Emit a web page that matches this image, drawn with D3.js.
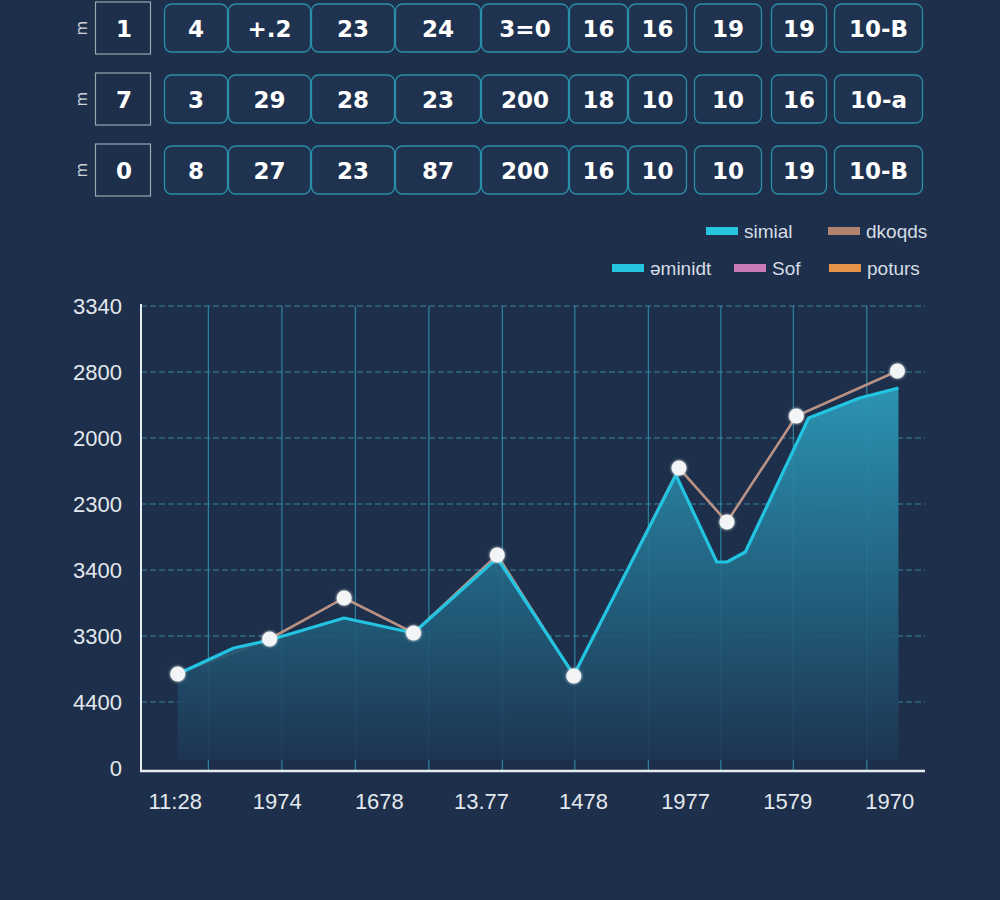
<!DOCTYPE html>
<html>
<head>
<meta charset="utf-8">
<script src="https://cdn.jsdelivr.net/npm/d3@7"></script>
<style>
  html, body { margin: 0; padding: 0; background: #1d2f4a; }
  svg { display: block; }
</style>
</head>
<body>
<svg id="chart" width="1000" height="900"></svg>
<script>
// ---------- DATA ----------
const rowHeads = ["1", "7", "0"];
const tableRow1 = ["4", "+.2", "23", "24", "3=0", "16", "16", "19", "19", "10-B"];
const tableRow2 = ["3", "29", "28", "23", "200", "18", "10", "10", "16", "10-a"];
const tableRow3 = ["8", "27", "23", "87", "200", "16", "10", "10", "19", "10-B"];

const legendNames = ["simial", "dkoqds", "əminidt", "Sof", "poturs"];
const legendColors = ["#27c4e0", "#b2836f", "#27c4e0", "#c879b6", "#e59347"];

const xTickValues = [0, 1, 2, 3, 4, 5, 6, 7];
const xTickLabels = ["11:28", "1974", "1678", "13.77", "1478", "1977", "1579", "1970"];
const yTickValues = [0, 1000, 2000, 3000, 4000, 5000, 6000, 7000];
const yTickLabels = ["0", "4400", "3300", "3400", "2300", "2000", "2800", "3340"];

// cyan area series ("simial")
const cyanX = [0.03, 0.58, 0.93, 1.66, 2.34, 3.16, 3.91, 4.91, 5.31, 5.41, 5.59, 6.21, 6.71, 7.09];
const cyanY = [1424, 1818, 1939, 2273, 2045, 3180, 1409, 4439, 3121, 3121, 3273, 5303, 5606, 5758];

// marker series ("dkoqds")
const dotX = [0.03, 0.93, 1.66, 2.34, 3.16, 3.91, 4.94, 5.41, 6.09, 7.08];
const dotY = [1424, 1955, 2576, 2045, 3227, 1394, 4545, 3727, 5333, 6015];

// vertical grid positions (in x units)
const xGridValues = [0.33, 1.05, 1.77, 2.49, 3.21, 3.92, 4.64, 5.35, 6.06, 6.78];

// ---------- LAYOUT ----------
const svg = d3.select("#chart");
svg.append("rect").attr("width", 1000).attr("height", 900).attr("fill", "#1d2f4a");

const plot = { left: 141, right: 925, top: 306, bottom: 768 };
const x = d3.scaleLinear().domain([-0.33, 7.35]).range([plot.left, plot.right]);
const y = d3.scaleLinear().domain([0, 7000]).range([plot.bottom, plot.top]);

// ---------- TABLE ----------
const rowsData = [tableRow1, tableRow2, tableRow3];
const rowTop = [4, 75, 146];
const rowH = 48;
const colEdges = [[164, 228], [228, 311], [311, 395], [395, 481], [481, 569],
                  [569, 628], [628, 687], [694, 762], [771, 827], [834, 923]];
const table = svg.append("g");
rowsData.forEach((row, ri) => {
  const g = table.append("g");
  const top = rowTop[ri];
  g.append("text")
    .attr("x", 83).attr("y", top + rowH / 2)
    .attr("transform", `rotate(90, 83, ${top + rowH / 2})`)
    .attr("text-anchor", "middle").attr("dominant-baseline", "central")
    .attr("fill", "#c9d1da").attr("font-family", "DejaVu Sans").attr("font-size", 15)
    .text("ɯ");
  g.append("rect")
    .attr("x", 95.5).attr("y", top - 2).attr("width", 55).attr("height", rowH + 4)
    .attr("fill", "none").attr("stroke", "#9aa6b2").attr("stroke-width", 1.2);
  g.append("text")
    .attr("x", 124).attr("y", top + rowH / 2 + 1)
    .attr("text-anchor", "middle").attr("dominant-baseline", "central")
    .attr("fill", "#ffffff").attr("font-family", "DejaVu Sans").attr("font-weight", "bold")
    .attr("font-size", 23).text(rowHeads[ri]);
  row.forEach((v, ci) => {
    const [a, b] = colEdges[ci];
    g.append("rect")
      .attr("x", a + 0.5).attr("y", top).attr("width", b - a - 1).attr("height", rowH)
      .attr("rx", 7).attr("fill", "#1f3350")
      .attr("stroke", "#2b8ea8").attr("stroke-width", 1.3);
    g.append("text")
      .attr("x", (a + b) / 2).attr("y", top + rowH / 2 + 1)
      .attr("text-anchor", "middle").attr("dominant-baseline", "central")
      .attr("fill", "#ffffff").attr("font-family", "DejaVu Sans").attr("font-weight", "bold")
      .attr("font-size", 23).text(v);
  });
});

// ---------- LEGEND ----------
const legendPos = [[706, 231], [828, 231], [612, 268], [734, 268], [829, 268]];
const legend = svg.append("g");
legendNames.forEach((name, i) => {
  const [lx, ly] = legendPos[i];
  legend.append("rect").attr("x", lx).attr("y", ly - 4).attr("width", 32).attr("height", 8)
    .attr("fill", legendColors[i]);
  legend.append("text").attr("x", lx + 38).attr("y", ly)
    .attr("dominant-baseline", "central")
    .attr("fill", "#d6dde6").attr("font-family", "Liberation Sans").attr("font-size", 19)
    .text(name);
});

// ---------- GRID ----------
const grid = svg.append("g");
grid.selectAll("line.h").data(yTickValues.filter(v => v > 0)).enter().append("line")
  .attr("x1", plot.left).attr("x2", plot.right)
  .attr("y1", d => y(d)).attr("y2", d => y(d))
  .attr("stroke", "#3a98b3").attr("stroke-width", 1.1).attr("stroke-dasharray", "6,3")
  .attr("opacity", 0.85);
grid.selectAll("line.v").data(xGridValues).enter().append("line")
  .attr("x1", d => x(d)).attr("x2", d => x(d))
  .attr("y1", plot.top).attr("y2", plot.bottom + 2)
  .attr("stroke", "#3393ae").attr("stroke-width", 1.2).attr("opacity", 0.85);

// ---------- GRADIENT ----------
const defs = svg.append("defs");
const grad = defs.append("linearGradient").attr("id", "areaGrad")
  .attr("gradientUnits", "userSpaceOnUse")
  .attr("x1", 0).attr("y1", y(5800)).attr("x2", 0).attr("y2", y(0));
grad.append("stop").attr("offset", "0%").attr("stop-color", "#2c9ab8").attr("stop-opacity", 0.95);
grad.append("stop").attr("offset", "55%").attr("stop-color", "#226482").attr("stop-opacity", 0.9);
grad.append("stop").attr("offset", "100%").attr("stop-color", "#1d3350").attr("stop-opacity", 0.9);

const glow = defs.append("filter").attr("id", "glow").attr("x", "-50%").attr("y", "-50%")
  .attr("width", "200%").attr("height", "200%");
glow.append("feGaussianBlur").attr("stdDeviation", 1.5).attr("result", "b");
const fm = glow.append("feMerge");
fm.append("feMergeNode").attr("in", "b");
fm.append("feMergeNode").attr("in", "SourceGraphic");

// ---------- SERIES ----------
const cyanData = cyanX.map((v, i) => [v, cyanY[i]]);
const dotData = dotX.map((v, i) => [v, dotY[i]]);

svg.append("path").datum(dotData)
  .attr("d", d3.line().x(d => x(d[0])).y(d => y(d[1])))
  .attr("fill", "none").attr("stroke", "#b99285").attr("stroke-width", 2.6);

svg.append("path").datum(cyanData)
  .attr("d", d3.area().x(d => x(d[0])).y0(y(120)).y1(d => y(d[1])))
  .attr("fill", "url(#areaGrad)");

svg.append("path").datum(cyanData)
  .attr("d", d3.line().x(d => x(d[0])).y(d => y(d[1])))
  .attr("fill", "none").attr("stroke", "#23c3e2").attr("stroke-width", 3.2)
  .attr("stroke-linejoin", "round");

svg.append("g").selectAll("circle").data(dotData).enter().append("circle")
  .attr("cx", d => x(d[0])).attr("cy", d => y(d[1])).attr("r", 7.5)
  .attr("fill", "#f2f4f6").attr("filter", "url(#glow)");

// ---------- AXES ----------
const yAxis = d3.axisLeft(y).tickValues(yTickValues)
  .tickFormat((d, i) => yTickLabels[i]).tickSize(0).tickPadding(19);
const gy = svg.append("g").attr("transform", `translate(${plot.left},0)`).call(yAxis);
gy.select(".domain").remove();
gy.selectAll("text").attr("fill", "#e3e8ee").attr("font-family", "Liberation Sans")
  .attr("font-size", 22);

const xAxis = d3.axisBottom(x).tickValues(xTickValues)
  .tickFormat((d, i) => xTickLabels[i]).tickSize(0).tickPadding(22);
const gx = svg.append("g").attr("transform", `translate(0,${plot.bottom + 3})`).call(xAxis);
gx.select(".domain").remove();
gx.selectAll("text").attr("fill", "#e3e8ee").attr("font-family", "Liberation Sans")
  .attr("font-size", 22);

svg.append("line").attr("x1", plot.left).attr("x2", plot.left)
  .attr("y1", plot.top - 2).attr("y2", plot.bottom + 4)
  .attr("stroke", "#e6ecf2").attr("stroke-width", 2);
svg.append("line").attr("x1", plot.left - 1).attr("x2", plot.right)
  .attr("y1", plot.bottom + 3).attr("y2", plot.bottom + 3)
  .attr("stroke", "#e6ecf2").attr("stroke-width", 2.5);
</script>
</body>
</html>
